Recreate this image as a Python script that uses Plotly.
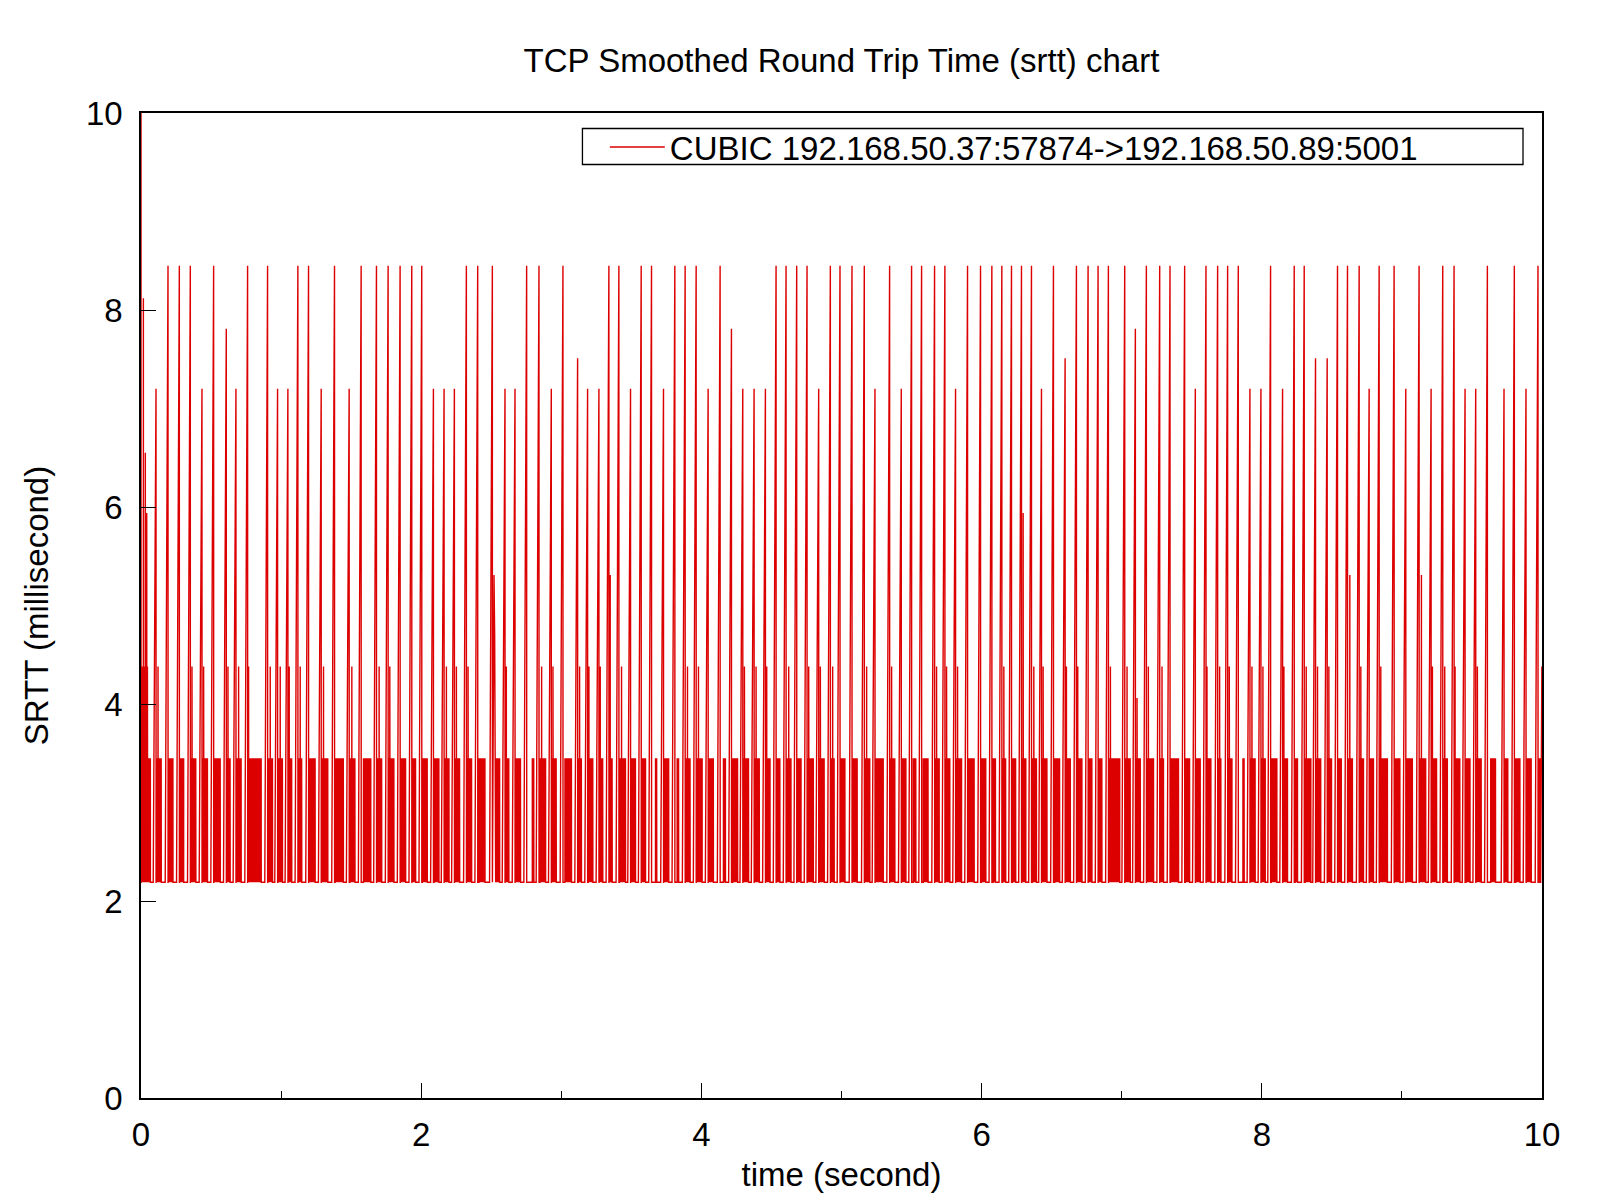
import plotly.graph_objects as go

# ---- data (time in seconds, SRTT in milliseconds) ----
# each cycle: a peak sample, then a stretch where srtt alternates quickly
# between the two lower levels (block_start .. block_end)
peak_t = [0.0000, 0.1072, 0.1928, 0.2736, 0.3520, 0.4352, 0.5184, 0.6088, 0.6777, 0.7609,
          0.9035, 0.9748, 1.0485, 1.1198, 1.1959, 1.2862, 1.3813, 1.4858, 1.5714,
          1.6807, 1.7639, 1.8495, 1.9327, 2.0040, 2.0872, 2.1633, 2.2369, 2.3225, 2.4033,
          2.5079, 2.5982, 2.6696, 2.7527, 2.8407, 2.9286, 3.0118, 3.1164, 3.1877, 3.2685,
          3.3397, 3.4110, 3.4942, 3.5703, 3.6440, 3.7295, 3.8104, 3.8840, 3.9625, 4.0481,
          4.1336, 4.2145, 4.2953, 4.3761, 4.4569, 4.5330, 4.6043, 4.6803, 4.7540, 4.8372,
          4.9204, 4.9893, 5.0749, 5.1628, 5.2389, 5.3435, 5.4267, 5.5003, 5.5717, 5.6644,
          5.7380, 5.8141, 5.8997, 5.9924, 6.0732, 6.1445, 6.2134, 6.2847, 6.3560, 6.4274,
          6.5129, 6.5961, 6.6769, 6.7601, 6.8314, 6.9051, 7.0216, 7.0976, 7.1761, 7.2712,
          7.3448, 7.4494, 7.5255, 7.6016, 7.6847, 7.7561, 7.8321, 7.9153, 7.9937, 8.0627,
          8.1483, 8.2315, 8.3028, 8.3835, 8.4667, 8.5404, 8.6117, 8.6949, 8.7662, 8.8376,
          8.9445, 9.0277, 9.1228, 9.2084, 9.2916, 9.3724, 9.4508, 9.5269, 9.6101, 9.7289,
          9.8026, 9.8858, 9.9714]
peak_v = [10.5, 7.20, 8.45, 8.45, 8.45, 7.20, 8.45, 7.81, 7.20, 8.45,
          8.45, 7.20, 7.20, 8.45, 8.45, 7.20, 8.45, 7.20, 8.45,
          8.45, 8.45, 8.45, 8.45, 8.45, 7.20, 7.20, 7.20, 8.45, 8.45,
          8.45, 7.20, 7.20, 8.45, 8.45, 7.20, 8.45, 7.51, 7.20, 7.20,
          8.45, 8.45, 7.20, 8.45, 8.45, 7.20, 8.45, 8.45, 8.45, 7.20,
          8.45, 7.81, 7.20, 7.20, 7.20, 8.45, 8.45, 8.45, 8.45, 7.20,
          8.45, 8.45, 8.45, 8.45, 7.20, 8.45, 7.20, 8.45, 8.45, 8.45,
          8.45, 7.20, 8.45, 8.45, 8.45, 8.45, 8.45, 8.45, 8.45, 7.20,
          8.45, 7.51, 8.45, 8.45, 8.45, 8.45, 8.45, 7.81, 8.45, 8.45,
          8.45, 8.45, 7.20, 8.45, 8.45, 8.45, 8.45, 7.20, 7.20, 8.45,
          7.20, 8.45, 8.45, 7.51, 7.51, 8.45, 8.45, 8.45, 7.20, 8.45,
          8.45, 7.20, 8.45, 7.20, 8.45, 8.45, 7.20, 7.20, 8.45, 7.20,
          8.45, 7.20, 8.45]
block_start = [0.0008, 0.1080, 0.1936, 0.2744, 0.3528, 0.4360, 0.5192, 0.6096, 0.6785, 0.7617,
               0.9043, 0.9772, 1.0493, 1.1206, 1.1967, 1.2870, 1.3860, 1.4906, 1.5880,
               1.6815, 1.7647, 1.8503, 1.9335, 2.0088, 2.0919, 2.1641, 2.2377, 2.3233, 2.4128,
               2.5317, 2.5990, 2.6704, 2.7932, 2.8478, 2.9294, 3.0261, 3.1211, 3.1925, 3.2693,
               3.3405, 3.4158, 3.4950, 3.5711, 3.6725, 3.7303, 3.8270, 3.8848, 3.9633, 4.0489,
               4.1574, 4.2240, 4.2961, 4.3769, 4.4577, 4.5338, 4.6051, 4.6811, 4.7548, 4.8380,
               4.9212, 4.9901, 5.0757, 5.1636, 5.2397, 5.3443, 5.4275, 5.5122, 5.5835, 5.6652,
               5.7388, 5.8149, 5.9005, 5.9995, 6.0827, 6.1493, 6.2206, 6.2855, 6.3632, 6.4282,
               6.5224, 6.5969, 6.6777, 6.7609, 6.8322, 6.9059, 7.0224, 7.0984, 7.1769, 7.2720,
               7.3472, 7.4542, 7.5263, 7.6024, 7.6855, 7.7569, 7.8654, 7.9161, 7.9945, 8.0674,
               8.1491, 8.2386, 8.3099, 8.3843, 8.4675, 8.5412, 8.6125, 8.6957, 8.7670, 8.8384,
               8.9453, 9.0285, 9.1236, 9.2092, 9.2963, 9.3732, 9.4579, 9.5277, 9.6339, 9.7297,
               9.8121, 9.8866, 9.9785]
block_end = [0.0670, 0.1452, 0.2284, 0.3045, 0.3924, 0.4756, 0.5660, 0.6373, 0.7157, 0.8583,
             0.9391, 1.0104, 1.0770, 1.1483, 1.2434, 1.3337, 1.4455, 1.5286, 1.6404,
             1.7188, 1.8067, 1.8899, 1.9612, 2.0444, 2.1276, 2.1989, 2.2750, 2.3605, 2.4556,
             2.5602, 2.6268, 2.7100, 2.8050, 2.8882, 2.9643, 3.0736, 3.1449, 3.2257, 3.2970,
             3.3635, 3.4586, 3.5299, 3.6012, 3.6820, 3.7676, 3.8389, 3.9197, 4.0053, 4.0861,
             4.1717, 4.2596, 4.3380, 4.4141, 4.4902, 4.5615, 4.6399, 4.7112, 4.7992, 4.8776,
             4.9489, 5.0250, 5.1129, 5.2032, 5.2983, 5.3815, 5.4599, 5.5312, 5.6192, 5.6976,
             5.7737, 5.8569, 5.9472, 6.0304, 6.0993, 6.1730, 6.2443, 6.3156, 6.3917, 6.4678,
             6.5581, 6.6341, 6.7173, 6.7886, 6.8599, 6.9859, 7.0620, 7.1333, 7.2284, 7.2997,
             7.4066, 7.4851, 7.5611, 7.6372, 7.7085, 7.7869, 7.8749, 7.9534, 8.0246, 8.1078,
             8.1839, 8.2552, 8.3503, 8.4216, 8.4976, 8.5690, 8.6474, 8.7258, 8.7971, 8.8970,
             8.9873, 9.0753, 9.1703, 9.2488, 9.3248, 9.4152, 9.4865, 9.5673, 9.6695, 9.7574,
             9.8430, 9.9238, 9.9904]
# isolated intermediate samples (secondary spikes)
sub_t = [0.0080, 0.0170, 0.0240, 0.0310, 0.0360, 0.0410, 0.0460,
         0.1215, 0.3639, 0.4471, 0.6206, 0.6967, 0.7680, 0.9225, 0.9938, 1.0580, 1.1364,
         1.3028, 1.5049, 1.6997, 1.7758, 2.1799, 2.2512, 2.3344, 2.5198, 2.5245, 2.6077,
         2.8597, 2.9405, 3.1306, 3.1972, 3.2780, 3.3492, 3.4300, 3.9007, 3.9791, 4.3072,
         4.3903, 4.4664, 4.6233, 4.7659, 4.8491, 4.9370, 5.1795, 5.3577, 5.6786, 5.7499,
         5.8284, 6.1588, 6.2966, 6.3727, 6.4392, 6.6056, 6.6864, 6.9194, 7.0382, 7.1095,
         7.1903, 7.2878, 7.6087, 7.6990, 7.7679, 7.9296, 8.0080, 8.1578, 8.3170, 8.3978,
         8.4786, 8.6284, 8.7068, 8.8494, 9.1394, 9.2179, 9.3058, 9.3795, 9.5388, 9.9990]
sub_v = [4.38, 8.12, 4.38, 6.55, 4.38, 5.94, 4.38,
         4.38, 4.38, 4.38, 4.38, 4.38, 4.38, 4.38, 4.38, 4.38, 4.38,
         4.38, 4.38, 4.38, 4.38, 4.38, 4.38, 4.38, 5.31, 4.69, 4.38,
         4.38, 4.38, 4.38, 4.38, 4.38, 5.31, 4.38, 4.38, 4.38, 4.38,
         4.38, 4.38, 4.38, 4.38, 4.38, 4.38, 4.38, 4.38, 4.38, 4.38,
         4.38, 4.38, 5.94, 4.38, 4.38, 4.38, 4.38, 4.38, 4.38, 4.06,
         4.38, 4.38, 4.38, 4.38, 4.38, 4.38, 4.38, 4.38, 4.38, 4.38,
         4.38, 5.31, 4.38, 4.38, 5.31, 4.38, 4.38, 4.38, 4.38, 4.38]
LOW = 2.19    # baseline srtt level
HIGH = 3.45   # upper level of the fast alternation
STEP = 0.002  # sample spacing inside an alternating stretch
RISE = 0.02   # last baseline sample before a peak

pts = []
prev_end = None
for tp, vp, bs, be in zip(peak_t, peak_v, block_start, block_end):
    if prev_end is not None:
        pts.append((max(prev_end, tp - RISE), LOW))
    pts.append((tp, vp))
    pts.append((tp + 0.0004, LOW))
    pts.append((bs - 0.0002, LOW))
    t = bs
    while t < be:
        pts.append((t, HIGH))
        pts.append((t + STEP / 2, LOW))
        t += STEP
    pts.append((be, LOW))
    prev_end = be
for ts, vs in zip(sub_t, sub_v):
    pts.append((ts, vs))
pts.sort()
xs = [p[0] for p in pts]
ys = [p[1] for p in pts]

# page offset of the figure (browser body margin)
OFF = 8
PL, PR, PT, PB = 141 - OFF, 1542.5 - OFF, 113 - OFF, 1098 - OFF
W, H = 1600, 1200

def px_x(px):
    return (px - OFF - PL) / (PR - PL)

def px_y(py):
    return (PB - (py - OFF)) / (PB - PT)

FONT = "Liberation Sans, Arial, Helvetica, sans-serif"
FS = 33

fig = go.Figure()
fig.add_trace(go.Scatter(
    x=xs, y=ys, mode="lines",
    line=dict(color="#dd0000", width=1.4, simplify=False),
    name="CUBIC 192.168.50.37:57874->192.168.50.89:5001",
    showlegend=True,
))

axis_common = dict(
    showgrid=False, zeroline=False,
    showline=True, linecolor="black", linewidth=1.5, mirror=True,
    ticks="inside", ticklen=15, tickwidth=1.3, tickcolor="black",
    tickfont=dict(family=FONT, size=FS, color="black"),
)

fig.update_layout(
    width=W, height=H,
    margin=dict(l=PL, r=W - PR, t=PT, b=H - PB, pad=0),
    paper_bgcolor="white", plot_bgcolor="white",
    font=dict(family=FONT, size=FS, color="black"),
    title=dict(text="TCP Smoothed Round Trip Time (srtt) chart",
               x=0.5, xref="paper", xanchor="center",
               y=1 - 52 / H, yref="container", yanchor="middle",
               font=dict(family=FONT, size=FS, color="black")),
    xaxis=dict(range=[0, 10], tickmode="array", tickvals=[0, 2, 4, 6, 8, 10],
               minor=dict(tickmode="array", tickvals=[1, 3, 5, 7, 9], ticks="inside",
                          ticklen=7, tickwidth=1.3, tickcolor="black"),
               ticklabelstandoff=7,
               title=dict(text="time (second)", standoff=11,
                          font=dict(family=FONT, size=FS, color="black")),
               **axis_common),
    yaxis=dict(range=[0, 10], tickmode="array", tickvals=[0, 2, 4, 6, 8, 10],
               ticklabelstandoff=10,
               title=dict(text="SRTT (millisecond)", standoff=27,
                          font=dict(family=FONT, size=FS, color="black")),
               **axis_common),
    showlegend=True,
    legend=dict(x=px_x(605), y=px_y(119), xanchor="left", yanchor="top",
                xref="paper", yref="paper",
                bgcolor="rgba(0,0,0,0)", borderwidth=0,
                font=dict(family=FONT, size=FS, color="black"),
                itemwidth=55),
    shapes=[dict(type="rect", xref="paper", yref="paper",
                 x0=px_x(582.6), x1=px_x(1523.5), y0=px_y(164.5), y1=px_y(128.5),
                 line=dict(color="black", width=1.3), fillcolor="rgba(0,0,0,0)")],
)

fig.write_html("out.html")
